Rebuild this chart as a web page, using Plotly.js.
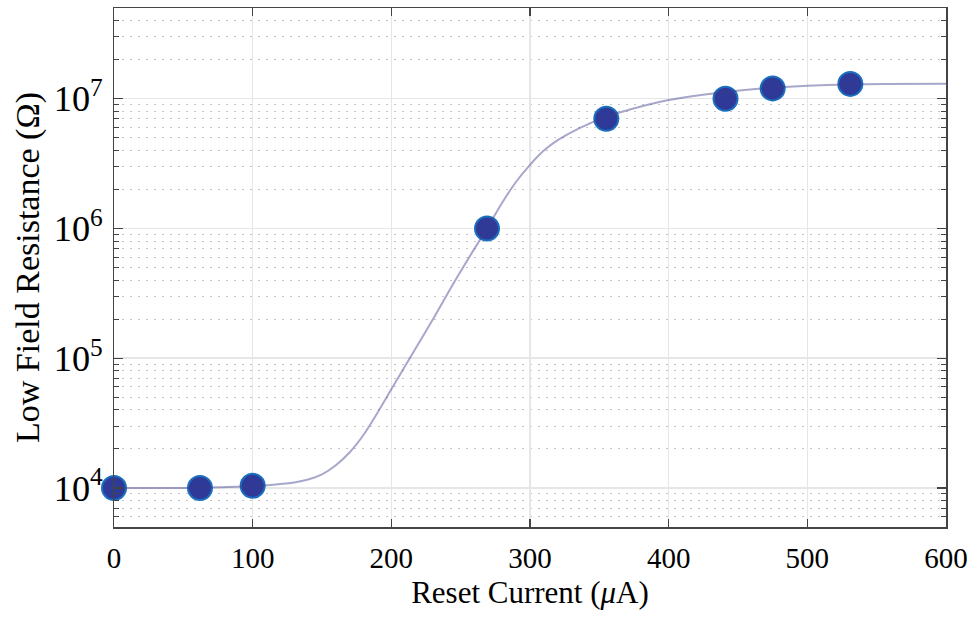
<!DOCTYPE html>
<html>
<head>
<meta charset="utf-8">
<script src="https://cdn.plot.ly/plotly-3.0.1.min.js"></script>
<style>html,body{margin:0;padding:0;background:#fff;}#chart{width:972px;height:617px;}</style>
</head>
<body>
<div id="chart"></div>
<script>
// Measured points
const currentPts = [0, 62, 100, 269, 355, 441, 475, 531];
const resistancePts = [1.0e4, 1.0e4, 1.04e4, 1.0e6, 7.0e6, 1.0e7, 1.2e7, 1.3e7];

// Fit curve (log10 of resistance)
const curveCurrent = [0, 50, 100, 115, 130, 140, 150, 160, 170, 180, 190, 200, 215, 230, 245, 258, 269, 280, 290, 300, 310, 320, 335, 355, 380, 400, 440, 475, 530, 600];
const curveLogR = [4.0, 4.0, 4.015, 4.025, 4.042, 4.065, 4.105, 4.175, 4.275, 4.41, 4.58, 4.76, 5.03, 5.3, 5.58, 5.81, 6.0, 6.2, 6.36, 6.49, 6.6, 6.68, 6.77, 6.86, 6.94, 6.99, 7.05, 7.085, 7.11, 7.115];
const curveR = curveLogR.map(v => Math.pow(10, v));

const serif = "Liberation Serif, Times New Roman, serif";

const traces = [
  {
    x: currentPts, y: resistancePts, type: "scatter", mode: "markers",
    marker: {size: 24, color: "#2f3a98", line: {color: "#1a6fbf", width: 2}},
    showlegend: false, cliponaxis: false
  },
  {
    x: curveCurrent, y: curveR, type: "scatter", mode: "lines",
    line: {color: "rgba(60,60,140,0.45)", width: 2, shape: "spline", smoothing: 0.8},
    showlegend: false
  }
];

const layout = {
  width: 972, height: 617,
  margin: {l: 114, r: 26, t: 8, b: 90},
  paper_bgcolor: "#fff", plot_bgcolor: "#fff",
  font: {family: serif, color: "#000", size: 29},
  xaxis: {
    range: [0, 600], dtick: 100, tick0: 0,
    ticks: "inside", ticklen: 8, tickwidth: 1.3, tickcolor: "#444",
    showline: true, linecolor: "#444", linewidth: 1.5, mirror: "ticks",
    showgrid: true, gridcolor: "#e6e6e6", gridwidth: 1.5,
    zeroline: false,
    tickfont: {family: serif, size: 29, color: "#000"},
    ticklabelstandoff: 5,
    title: {text: "Reset Current (<i>μ</i>A)", font: {family: serif, size: 31, color: "#000"}, standoff: 8}
  },
  yaxis: {
    type: "log", range: [Math.log10(5000), Math.log10(5e7)], dtick: 1,
    exponentformat: "power",
    ticks: "inside", ticklen: 9, tickwidth: 1.3, tickcolor: "#444",
    showline: true, linecolor: "#444", linewidth: 1.5, mirror: "ticks",
    showgrid: true, gridcolor: "#e6e6e6", gridwidth: 1.5,
    zeroline: false,
    tickfont: {family: serif, size: 29, color: "#000"},
    ticklabelstandoff: 4,
    minor: {dtick: "D1", ticks: "inside", ticklen: 5, tickcolor: "#444", tickwidth: 1, showgrid: true, gridcolor: "#c4c4c4", griddash: "2px,6px", gridwidth: 1},
    title: {text: "Low Field Resistance (Ω)", font: {family: serif, size: 34, color: "#000"}, standoff: 4}
  }
};

Plotly.newPlot("chart", traces, layout, {displayModeBar: false, staticPlot: true});
</script>
</body>
</html>
